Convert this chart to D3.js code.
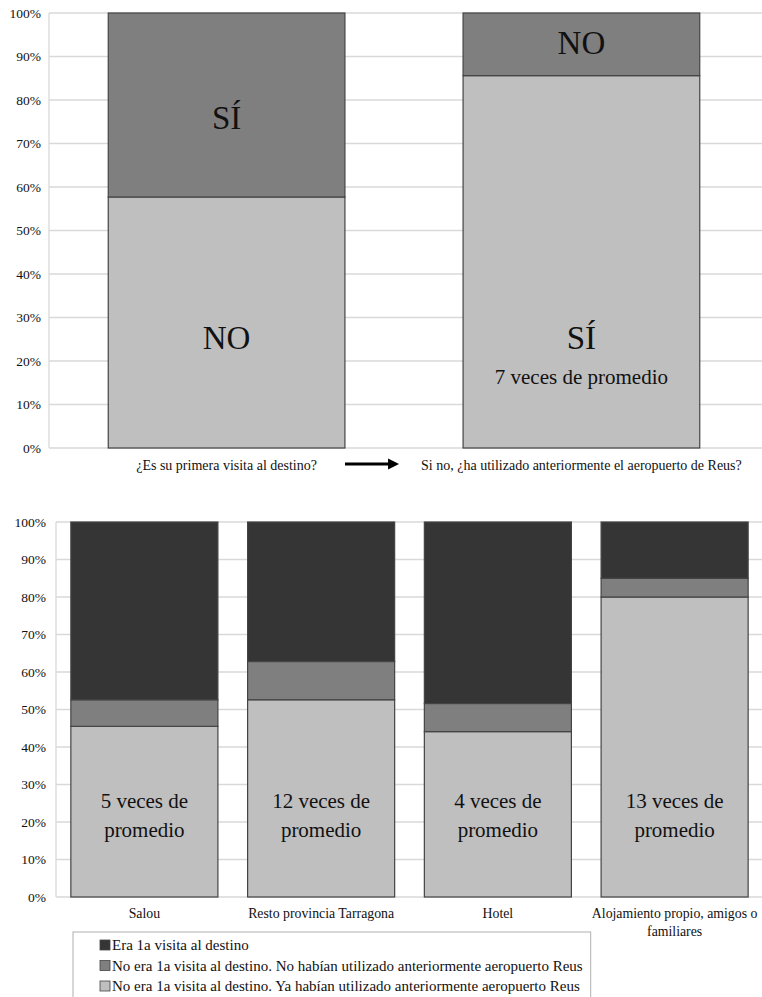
<!DOCTYPE html>
<html>
<head>
<meta charset="utf-8">
<script src="https://cdn.jsdelivr.net/npm/d3@7"></script>
<style>
  body { margin: 0; background: #fff; }
  text { font-family: "Liberation Serif", "Times New Roman", serif; fill: #111; }
</style>
</head>
<body>
<div id="chart"></div>
<script>
// --- data: top chart (first visit / used Reus airport before)
const topCats = ["¿Es su primera visita al destino?", "Si no, ¿ha utilizado anteriormente el aeropuerto de Reus?"];
const topLower = [57.7, 85.6];   // light segment
const topUpper = [42.3, 14.4];   // mid segment
const topBigLabels = [[0, "SÍ", 75.9], [0, "NO", 25.3], [1, "NO", 93.3], [1, "SÍ", 25.5]];
const topSmallLabels = [[1, "7 veces de promedio", 16.3]];

// --- data: bottom chart (by type of accommodation)
const places = ["Salou", "Resto provincia Tarragona", "Hotel", "Alojamiento propio, amigos o familiares"];
const yaUsado = [45.5, 52.6, 44.1, 80.0];
const noUsado = [7.1, 10.2, 7.5, 5.0];
const primera = [47.4, 37.2, 48.4, 15.0];
const promedio = [["5 veces de", "promedio"], ["12 veces de", "promedio"], ["4 veces de", "promedio"], ["13 veces de", "promedio"]];
const seriesNames = [
  "Era 1a visita al destino",
  "No era 1a visita al destino. No habían utilizado anteriormente aeropuerto Reus",
  "No era 1a visita al destino. Ya habían utilizado anteriormente aeropuerto Reus"
];
const yTicks = [0, 10, 20, 30, 40, 50, 60, 70, 80, 90, 100];

const LIGHT = "#bfbfbf", MID = "#7f7f7f", DARK = "#353535";
const W = 762, H = 997;

const svg = d3.select("#chart").append("svg")
  .attr("width", W).attr("height", H)
  .attr("viewBox", `0 0 ${W} ${H}`)
  .attr("font-family", "Liberation Serif, serif");

// shared grid + y axis
function drawGrid(g, y, x0, x1, labelX) {
  g.append("g").selectAll("line").data(yTicks).join("line")
    .attr("x1", x0).attr("x2", x1)
    .attr("y1", d => y(d)).attr("y2", d => y(d))
    .attr("stroke", "#d9d9d9").attr("stroke-width", 1.3);
  g.append("line")
    .attr("x1", x0).attr("x2", x0)
    .attr("y1", y(0)).attr("y2", y(100))
    .attr("stroke", "#d9d9d9").attr("stroke-width", 1.3);
  g.append("g").selectAll("text").data(yTicks).join("text")
    .attr("x", labelX).attr("y", d => y(d))
    .attr("dy", "0.35em").attr("text-anchor", "end")
    .attr("font-size", 13.5)
    .text(d => d + "%");
}

// ---------- top chart
{
  const g = svg.append("g");
  const x = d3.scaleBand().domain(d3.range(topCats.length)).range([49, 759])
    .paddingInner(0.333).paddingOuter(0.167);
  const y = d3.scaleLinear().domain([0, 100]).range([448, 13]);
  drawGrid(g, y, 49, W, 41);

  const rows = topCats.map((c, i) => ({ i, lower: topLower[i], upper: topUpper[i] }));
  const stack = d3.stack().keys(["lower", "upper"])(rows);
  const fills = { lower: LIGHT, upper: MID };
  g.append("g").selectAll("g").data(stack).join("g")
    .attr("fill", s => fills[s.key])
    .selectAll("rect").data(s => s).join("rect")
    .attr("x", d => x(d.data.i))
    .attr("width", x.bandwidth())
    .attr("y", d => y(d[1]))
    .attr("height", d => y(d[0]) - y(d[1]))
    .attr("stroke", "#444").attr("stroke-width", 1.2);

  g.append("g").selectAll("text").data(topBigLabels).join("text")
    .attr("x", d => x(d[0]) + x.bandwidth() / 2)
    .attr("y", d => y(d[2]))
    .attr("dy", "0.35em").attr("text-anchor", "middle")
    .attr("font-size", 33)
    .text(d => d[1]);
  g.append("g").selectAll("text").data(topSmallLabels).join("text")
    .attr("x", d => x(d[0]) + x.bandwidth() / 2)
    .attr("y", d => y(d[2]))
    .attr("dy", "0.35em").attr("text-anchor", "middle")
    .attr("font-size", 21)
    .text(d => d[1]);

  const cat = g.append("g").selectAll("text").data(topCats).join("text")
    .attr("x", (d, i) => x(i) + x.bandwidth() / 2)
    .attr("y", 465)
    .attr("dy", "0.35em").attr("text-anchor", "middle")
    .attr("font-size", 14)
    .text(d => d);

  // arrow between the two questions
  const b0 = cat.nodes()[0].getBBox();
  const b1 = cat.nodes()[1].getBBox();
  const ax0 = b0.x + b0.width + 28, ax1 = b1.x - 22;
  g.append("line")
    .attr("x1", ax0).attr("x2", ax1 - 8)
    .attr("y1", 464).attr("y2", 464)
    .attr("stroke", "#000").attr("stroke-width", 3);
  g.append("path")
    .attr("d", `M${ax1},464 L${ax1 - 11},458.5 L${ax1 - 11},469.5 Z`)
    .attr("fill", "#000");
}

// ---------- bottom chart
{
  const g = svg.append("g");
  const x = d3.scaleBand().domain(places).range([56, 763])
    .paddingInner(0.168).paddingOuter(0.084);
  const y = d3.scaleLinear().domain([0, 100]).range([897, 522]);
  drawGrid(g, y, 56, W, 46);

  const rows = places.map((p, i) => ({ p, ya: yaUsado[i], no: noUsado[i], primera: primera[i] }));
  const keys = ["ya", "no", "primera"];
  const fills = { ya: LIGHT, no: MID, primera: DARK };
  const stack = d3.stack().keys(keys)(rows);
  g.append("g").selectAll("g").data(stack).join("g")
    .attr("fill", s => fills[s.key])
    .selectAll("rect").data(s => s).join("rect")
    .attr("x", d => x(d.data.p))
    .attr("width", x.bandwidth())
    .attr("y", d => y(d[1]))
    .attr("height", d => y(d[0]) - y(d[1]))
    .attr("stroke", "#444").attr("stroke-width", 1.2);

  // "N veces de promedio" labels
  const lab = g.append("g").selectAll("text").data(places).join("text")
    .attr("text-anchor", "middle")
    .attr("font-size", 21);
  lab.each(function (p, i) {
    const t = d3.select(this);
    promedio[i].forEach((line, k) => {
      t.append("tspan")
        .attr("x", x(p) + x.bandwidth() / 2)
        .attr("y", y(25.6) + k * 29)
        .attr("dy", "0.35em")
        .text(line);
    });
  });

  // category labels, wrapped to the band step
  g.append("g").selectAll("text").data(places).join("text")
    .attr("text-anchor", "middle")
    .attr("font-size", 13.8)
    .each(function (p) {
      const t = d3.select(this);
      const cx = x(p) + x.bandwidth() / 2;
      const words = p.split(" ");
      let line = [], lines = [];
      const probe = t.append("tspan");
      words.forEach(w => {
        probe.text([...line, w].join(" "));
        if (probe.node().getComputedTextLength() > x.step() - 2 && line.length) {
          lines.push(line.join(" "));
          line = [w];
        } else line.push(w);
      });
      lines.push(line.join(" "));
      probe.remove();
      lines.forEach((l, k) => {
        t.append("tspan").attr("x", cx).attr("y", 913 + k * 18).attr("dy", "0.35em").text(l);
      });
    });

  // legend
  const lg = g.append("g");
  const box = lg.append("rect")
    .attr("x", 73).attr("y", 932).attr("height", 80)
    .attr("fill", "#fff").attr("stroke", "#b0b0b0").attr("stroke-width", 1);
  const legendFills = [DARK, MID, LIGHT];
  const item = lg.selectAll("g").data(seriesNames).join("g")
    .attr("transform", (d, i) => `translate(100,${945 + i * 20.5})`);
  item.append("rect")
    .attr("x", 0).attr("y", -5).attr("width", 10).attr("height", 10)
    .attr("fill", (d, i) => legendFills[i]).attr("stroke", "#444").attr("stroke-width", 0.8);
  const lt = item.append("text")
    .attr("x", 12).attr("y", 0).attr("dy", "0.35em")
    .attr("font-size", 15)
    .text(d => d);
  const maxW = d3.max(lt.nodes(), n => n.getComputedTextLength());
  box.attr("width", 100 + 12 + maxW + 8 - 73);
}
</script>
</body>
</html>
